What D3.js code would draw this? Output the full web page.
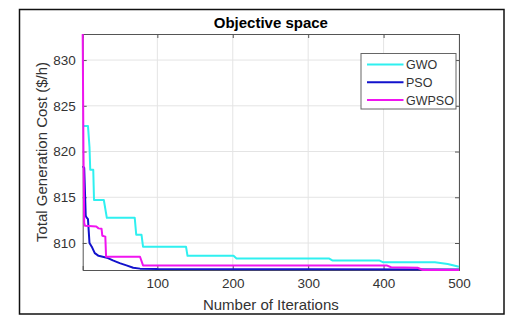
<!DOCTYPE html>
<html>
<head>
<meta charset="utf-8">
<script src="https://cdn.jsdelivr.net/npm/d3@7"></script>
<style>
  body { margin: 0; background: #fff; }
  text { font-family: 'Liberation Sans', Arial, sans-serif; }
</style>
</head>
<body>
<div id="chart"></div>
<script>
// breakpoints [iteration, cost]
let gwo = [
  [1, 822.8], [8, 822.8], [10, 820.5], [11, 818.0], [15, 818.0], [16, 814.7],
  [29, 814.7], [33, 812.75], [70, 812.75], [72, 810.9], [79, 810.9], [81, 809.6],
  [138, 809.6], [140, 808.6], [201, 808.6], [205, 808.3], [328, 808.3], [332, 808.1],
  [394, 808.1], [399, 807.9], [468, 807.9], [485, 807.7], [500, 807.4]
]
let pso = [
  [1, 818.4], [3, 818.2], [5, 813.0], [6, 812.8], [8, 812.6], [10, 810.0],
  [13, 809.6], [17, 808.9], [22, 808.6], [33, 808.4], [41, 808.1], [50, 807.8],
  [59, 807.55], [68, 807.3], [77, 807.2], [100, 807.15], [300, 807.12], [500, 807.1]
]
let gwpso = [
  [1, 832.85], [2, 820], [3, 812.2], [4, 811.9], [19, 811.8], [22, 811.6],
  [26, 811.55], [27, 810.8], [31, 810.7], [32, 808.5], [77, 808.5], [81, 807.55],
  [404, 807.55], [410, 807.35], [445, 807.3], [452, 807.05], [500, 807.05]
]

let seriesNames = ['GWO', 'PSO', 'GWPSO']
let seriesColors = ['#2ff0f0', '#1212cc', '#f014f0']
let xTicks = [100, 200, 300, 400, 500]
let yTicks = [810, 815, 820, 825, 830]

let margin = { top: 34, left: 82.7, right: 66, bottom: 49 }
let totalWidth = 525
let totalHeight = 319
let width = totalWidth - margin.left - margin.right
let height = totalHeight - margin.top - margin.bottom

let root = d3
  .select('#chart')
  .append('svg')
  .attr('width', totalWidth)
  .attr('height', totalHeight)

// figure frame
root
  .append('rect')
  .attr('x', 19.5)
  .attr('y', 9.5)
  .attr('width', 484.5)
  .attr('height', 304.5)
  .attr('fill', '#fff')
  .attr('stroke', '#111')
  .attr('stroke-width', 1.5)

let svg = root
  .append('g')
  .attr('transform', 'translate(' + margin.left + ',' + margin.top + ')')

let xPositionScale = d3.scaleLinear().domain([1, 500]).range([0, width])
let yPositionScale = d3.scaleLinear().domain([807.05, 832.85]).range([height, 0])

// grid
svg
  .selectAll('.grid-x')
  .data(xTicks)
  .enter()
  .append('line')
  .attr('x1', d => xPositionScale(d))
  .attr('x2', d => xPositionScale(d))
  .attr('y1', 0)
  .attr('y2', height)
  .attr('stroke', '#e4e4e4')
svg
  .selectAll('.grid-y')
  .data(yTicks)
  .enter()
  .append('line')
  .attr('y1', d => yPositionScale(d))
  .attr('y2', d => yPositionScale(d))
  .attr('x1', 0)
  .attr('x2', width)
  .attr('stroke', '#e4e4e4')

// axes (ticks inward, MATLAB style)
let xAxis = d3.axisBottom(xPositionScale).tickValues(xTicks).tickSize(-4).tickPadding(8)
let yAxis = d3.axisLeft(yPositionScale).tickValues(yTicks).tickSize(-4).tickPadding(7)
let xAxisTop = d3.axisTop(xPositionScale).tickValues(xTicks).tickSize(-4).tickFormat('')
let yAxisRight = d3.axisRight(yPositionScale).tickValues(yTicks).tickSize(-4).tickFormat('')

svg.append('g').attr('class', 'axis').attr('transform', 'translate(0,' + height + ')').call(xAxis)
svg.append('g').attr('class', 'axis').call(yAxis)
svg.append('g').attr('class', 'axis').call(xAxisTop)
svg.append('g').attr('class', 'axis').attr('transform', 'translate(' + width + ',0)').call(yAxisRight)

svg.selectAll('.axis .domain').attr('stroke', '#555')
svg.selectAll('.axis .tick line').attr('stroke', '#555')
svg
  .selectAll('.axis .tick text')
  .attr('fill', '#333')
  .attr('font-size', 13.5)
  .style('font-family', "'Liberation Sans', Arial, sans-serif")

// lines
let line = d3
  .line()
  .x(d => xPositionScale(d[0]))
  .y(d => yPositionScale(d[1]))

let allSeries = [gwo, pso, gwpso]

svg
  .selectAll('.series')
  .data(allSeries)
  .enter()
  .append('path')
  .attr('class', 'series')
  .attr('d', d => line(d))
  .attr('fill', 'none')
  .attr('stroke', (d, i) => seriesColors[i])
  .attr('stroke-width', 2)
  .attr('stroke-linejoin', 'round')

// title and labels
root
  .append('text')
  .attr('x', margin.left + width / 2)
  .attr('y', 28)
  .attr('text-anchor', 'middle')
  .attr('font-size', 15)
  .attr('font-weight', 'bold')
  .attr('fill', '#000')
  .text('Objective space')

root
  .append('text')
  .attr('x', margin.left + width / 2)
  .attr('y', 310)
  .attr('text-anchor', 'middle')
  .attr('font-size', 15)
  .attr('fill', '#333')
  .text('Number of Iterations')

root
  .append('text')
  .attr('transform', 'translate(47,' + (margin.top + 118) + ') rotate(-90)')
  .attr('text-anchor', 'middle')
  .attr('font-size', 15)
  .attr('fill', '#333')
  .text('Total Generation Cost ($/h)')

// legend
let legend = root.append('g').attr('transform', 'translate(361,53.5)')
legend
  .append('rect')
  .attr('width', 95)
  .attr('height', 55.5)
  .attr('fill', '#fff')
  .attr('stroke', '#666')

let entries = legend
  .selectAll('.entry')
  .data(seriesNames)
  .enter()
  .append('g')
  .attr('transform', (d, i) => 'translate(0,' + (11 + i * 17.8) + ')')

entries
  .append('line')
  .attr('x1', 6)
  .attr('x2', 42.5)
  .attr('stroke', (d, i) => seriesColors[i])
  .attr('stroke-width', 2)

entries
  .append('text')
  .attr('x', 45)
  .attr('y', 4.5)
  .attr('font-size', 12.5)
  .attr('fill', '#333')
  .text(d => d)
</script>
</body>
</html>
